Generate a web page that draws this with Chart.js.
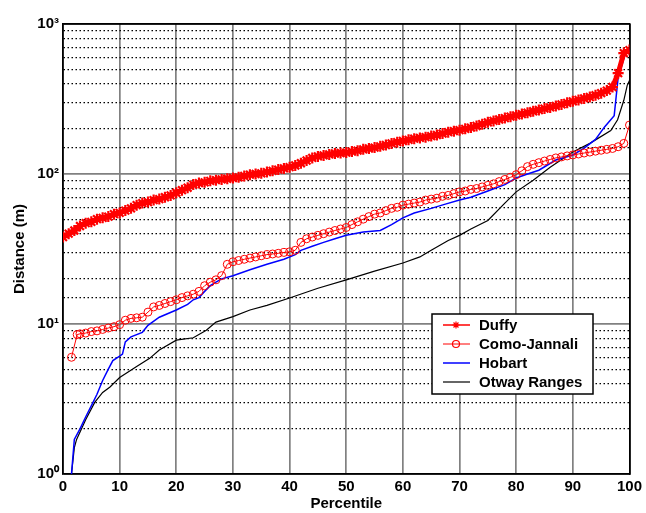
<!DOCTYPE html>
<html>
<head>
<meta charset="utf-8">
<script src="https://cdn.jsdelivr.net/npm/chart.js@4.4.1/dist/chart.umd.min.js"></script>
<style>
  html, body { margin: 0; padding: 0; background: #fff; }
  #wrap { width: 646px; height: 513px; }
</style>
</head>
<body>
<div id="wrap"><canvas id="chart" width="646" height="513"></canvas></div>
<script>
// Percentile vs distance, log y axis
const xTicks = [0, 10, 20, 30, 40, 50, 60, 70, 80, 90, 100];
const yDecades = [1, 10, 100, 1000];
const yDecadeLabels = ['10\u2070', '10\u00B9', '10\u00B2', '10\u00B3'];
const seriesNames = ['Duffy', 'Como-Jannali', 'Hobart', 'Otway Ranges'];

const duffyPct = [0,1,2,3,4,5,6,7,8,9,10,11,12,13,14,15,16,17,18,19,20,21,22,23,24,25,26,27,28,29,30,31,32,33,34,35,36,37,38,39,40,41,42,43,44,45,46,47,48,49,50,51,52,53,54,55,56,57,58,59,60,61,62,63,64,65,66,67,68,69,70,71,72,73,74,75,76,77,78,79,80,81,82,83,84,85,86,87,88,89,90,91,92,93,94,95,96,97,98,99,100];
const duffyDist = [38,40,42,45,47,48,50,51,52,54,55,57,59,62,64,65,67,68,70,72,75,78,81,85,87,88,90,91,92,93,94,95,97,99,100,101,103,105,107,109,111,114,118,123,128,131,133,135,137,138,139,141,143,146,148,150,153,156,160,163,166,169,172,174,176,179,182,186,190,193,196,200,204,209,215,221,226,231,236,241,246,251,256,262,267,273,278,284,291,298,305,312,319,326,335,346,360,380,470,640,670];

const comoPct = [1.5,2.5,3,4,5,6,7,8,9,10,11,12,13,14,15,16,17,18,19,20,21,22,23,24,25,26,27,28,29,30,31,32,33,34,35,36,37,38,39,40,41,42,43,44,45,46,47,48,49,50,51,52,53,54,55,56,57,58,59,60,61,62,63,64,65,66,67,68,69,70,71,72,73,74,75,76,77,78,79,80,81,82,83,84,85,86,87,88,89,90,91,92,93,94,95,96,97,98,99,100];
const comoDist = [6.0,8.5,8.6,8.7,8.9,9.0,9.2,9.4,9.6,9.9,10.6,10.9,11.0,11.1,12.0,13.0,13.3,13.7,14.1,14.5,15.0,15.4,15.8,16.5,18.0,19.0,19.7,21,25,26,26.5,27,27.5,28,28.5,29,29.3,29.6,30,30.3,31,35,37,38,39,40,41,42,43,44,46,48,50,52,54,55,57,59,60,62,63,64,65,67,68,69,71,72,74,76,77,79,80,82,84,86,89,92,95,99,105,112,116,119,122,125,128,130,132,134,136,138,140,142,144,146,148,152,160,212];

const hobartPct = [1.5,2,3,4,5.3,6,7,8,8.8,10,10.5,11,12,14,15,17,20,22,23,24,25,26,27,28,30,33,36,39,41,42,44,46,48,50,53,56,58,60,62,65,67.5,70,72,75,78,80,82,84,87,90,92,94,95.6,97.3,98,99.3,100];
const hobartDist = [1,1.7,2.0,2.4,3.0,3.4,4.2,5.0,5.7,6.1,6.3,7.6,8.2,8.8,9.8,11.1,12.4,13.5,14.5,15,16.5,18,19,20,21,23,25,27,29,31,33,35,37,39,41,42,46,51,55,59,63,67,70,77,85,94,100,106,124,134,149,170,206,245,440,640,680];

const otwayPct = [1.5,2,2.4,4,5.6,7,8.3,10,13,15.3,17,20,23,25.3,27,30,33,36,40,45,50,55,60,63,65,68,70,72,75,78,80,83,86,90,93,96.7,97.9,99,99.6,100];
const otwayDist = [1,1.5,1.7,2.3,3.0,3.5,3.8,4.4,5.2,5.9,6.7,7.8,8.1,9.1,10.3,11.2,12.4,13.3,14.9,17.3,19.7,22.5,25.5,28,31,36,39,43,49,64,76,91,111,140,160,195,230,310,390,420];

const pts = (xs, ys) => xs.map((x, i) => ({ x: x, y: ys[i] }));
const isDecade = v => yDecades.includes(v);
const FONT = "'Liberation Sans', Arial, Helvetica, sans-serif";

// legend drawn inside the plot, lower right like the original
const legendBox = {
  id: 'legendBox',
  afterDraw(chart) {
    const c = chart.ctx;
    const bx = 432, by = 314, bw = 161, bh = 80;
    c.save();
    c.fillStyle = '#fff';
    c.fillRect(bx, by, bw, bh);
    c.strokeStyle = '#000';
    c.lineWidth = 1.5;
    c.strokeRect(bx, by, bw, bh);
    c.font = 'bold 15px ' + FONT;
    c.textBaseline = 'middle';
    chart.data.datasets.forEach((ds, i) => {
      const y = by + 11 + i * 19;
      c.strokeStyle = ds.borderColor;
      c.lineWidth = Math.min(ds.borderWidth, 1.5);
      c.setLineDash([]);
      c.beginPath();
      c.moveTo(bx + 11, y);
      c.lineTo(bx + 38, y);
      c.stroke();
      if (ds.pointRadius > 0) {
        c.fillStyle = ds.pointBackgroundColor;
        c.strokeStyle = ds.pointBorderColor;
        c.lineWidth = 1.2;
        Chart.helpers.drawPoint(c, { pointStyle: ds.pointStyle, radius: 3.5, borderWidth: 1.2, rotation: 0 }, bx + 24, y);
      }
      c.fillStyle = '#000';
      c.fillText(ds.label, bx + 47, y + 1);
    });
    c.restore();
  }
};

new Chart(document.getElementById('chart').getContext('2d'), {
  type: 'line',
  data: {
    datasets: [
      {
        label: seriesNames[0],
        data: pts(duffyPct, duffyDist),
        borderColor: '#ff0000',
        borderWidth: 5,
        pointStyle: 'star',
        pointRadius: 5.5,
        pointBorderColor: '#ff0000',
        pointBackgroundColor: '#ff0000',
        pointBorderWidth: 2.2
      },
      {
        label: seriesNames[1],
        data: pts(comoPct, comoDist),
        borderColor: '#ff0000',
        borderWidth: 1,
        pointStyle: 'circle',
        pointRadius: 4,
        pointBorderColor: '#ff0000',
        pointBackgroundColor: 'rgba(0,0,0,0)',
        pointBorderWidth: 1
      },
      {
        label: seriesNames[2],
        data: pts(hobartPct, hobartDist),
        borderColor: '#0000ff',
        borderWidth: 1.5,
        pointRadius: 0
      },
      {
        label: seriesNames[3],
        data: pts(otwayPct, otwayDist),
        borderColor: '#000000',
        borderWidth: 1.2,
        pointRadius: 0
      }
    ]
  },
  options: {
    responsive: false,
    animation: false,
    layout: { padding: { top: 24, right: 14, left: 0, bottom: 0 } },
    elements: { line: { tension: 0 } },
    plugins: {
      legend: { display: false },
      tooltip: { enabled: false }
    },
    scales: {
      x: {
        type: 'linear',
        min: 0,
        max: 100,
        afterFit: s => { s.height = 39; },
        afterBuildTicks: s => { s.ticks = xTicks.map(v => ({ value: v })); },
        ticks: { color: '#000', padding: 4, font: { family: FONT, size: 15, weight: 'bold' } },
        grid: {
          drawTicks: false,
          color: c => (c.tick && (c.tick.value === 0 || c.tick.value === 100)) ? '#000' : '#808080',
          lineWidth: 1.7
        },
        border: { color: '#000', width: 1.5 },
        title: {
          display: true,
          text: 'Percentile',
          color: '#000',
          padding: { top: 0, bottom: 0 },
          font: { family: FONT, size: 15, weight: 'bold' }
        }
      },
      y: {
        type: 'logarithmic',
        min: 1,
        max: 1000,
        afterFit: s => { s.width = 63; },
        ticks: {
          autoSkip: false,
          color: '#000',
          padding: 4,
          font: { family: FONT, size: 15, weight: 'bold' },
          callback: v => {
            const k = yDecades.indexOf(v);
            return k >= 0 ? yDecadeLabels[k] : '';
          }
        },
        grid: {
          drawTicks: false,
          color: c => {
            if (!c.tick) return '#000';
            const v = c.tick.value;
            if (v === 1 || v === 1000) return '#000';
            return isDecade(v) ? '#808080' : '#000';
          },
          lineWidth: c => (c.tick && isDecade(c.tick.value)) ? 1.7 : 1.2,
          borderDash: c => (c.tick && !isDecade(c.tick.value)) ? [1.5, 2.5] : []
        },
        border: {
          color: '#000',
          width: 1.5,
          dash: c => (c.tick && !isDecade(c.tick.value)) ? [1.5, 2.5] : []
        },
        title: {
          display: true,
          text: 'Distance (m)',
          color: '#000',
          padding: { top: 11, bottom: 0 },
          font: { family: FONT, size: 15, weight: 'bold' }
        }
      },
      xTop: {
        type: 'linear',
        position: 'top',
        min: 0,
        max: 100,
        afterFit: s => { s.height = 0; },
        ticks: { display: false },
        grid: { display: false, drawTicks: false },
        border: { color: '#000', width: 1.5 }
      },
      yRight: {
        type: 'linear',
        position: 'right',
        min: 0,
        max: 1,
        afterFit: s => { s.width = 0; },
        ticks: { display: false },
        grid: { display: false, drawTicks: false },
        border: { color: '#000', width: 1.5 }
      }
    }
  },
  plugins: [legendBox]
});
</script>
</body>
</html>
